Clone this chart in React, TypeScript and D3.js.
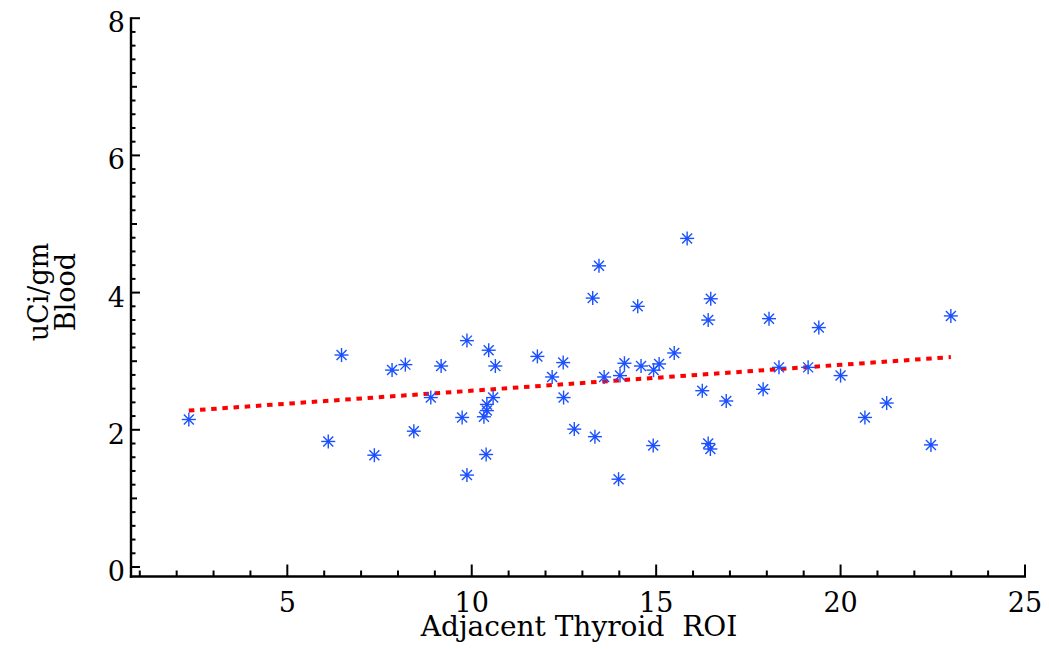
import React from "react";
import * as d3 from "d3";

// Adjacent Thyroid ROI (x) vs Blood uCi/gm (y)
const roiValues: number[] = [
  2.33, 6.11, 6.47, 7.36, 7.84, 8.2, 8.43, 8.89, 9.17, 9.74,
  9.87, 9.87, 10.33, 10.41, 10.41, 10.58, 10.39, 10.46, 10.64, 11.78,
  12.18, 12.48, 12.49, 12.78, 13.34, 13.28, 13.45, 13.59, 13.98, 14.02,
  14.14, 14.5, 14.59, 14.93, 15.08, 15.49, 14.92, 15.84, 16.25, 16.41,
  16.48, 16.41, 16.47, 16.9, 17.9, 18.06, 18.33, 19.12, 19.41, 20.0,
  20.66, 21.25, 22.45, 22.99,
];
const bloodValues: number[] = [
  2.15, 1.83, 3.09, 1.63, 2.87, 2.95, 1.98, 2.47, 2.93, 2.18,
  3.3, 1.34, 2.19, 2.28, 2.37, 2.47, 1.64, 3.16, 2.93, 3.07,
  2.77, 2.98, 2.47, 2.01, 1.9, 3.92, 4.39, 2.77, 1.28, 2.79,
  2.97, 3.8, 2.93, 2.87, 2.96, 3.12, 1.77, 4.79, 2.57, 3.6,
  3.91, 1.8, 1.72, 2.42, 2.59, 3.62, 2.91, 2.91, 3.49, 2.79,
  2.18, 2.39, 1.78, 3.66,
];
// fitted trend line endpoints
const fitX: number[] = [2.33, 22.99];
const fitY: number[] = [2.28, 3.06];

const xTickLabels: number[] = [5, 10, 15, 20, 25];
const yTickLabels: number[] = [0, 2, 4, 6, 8];

const W = 1049;
const H = 649;
const FONT = "'DejaVu Serif', serif";

export default function App() {
  const x = d3.scaleLinear().domain([0, 25]).range([102.9, 1025]);
  const y = d3.scaleLinear().domain([0, 8]).range([567, 18.2]);
  const axisX = 131;
  const axisY = 576.5;
  const blue = "#1a50ff";

  const xMinor = d3.range(1, 26, 1);
  const yMinor = d3.range(0, 8.001, 0.2).map((v) => Math.round(v * 10) / 10);

  const line = d3
    .line<number>()
    .x((_, i) => x(fitX[i]))
    .y((_, i) => y(fitY[i]));

  const star = (cx: number, cy: number, k: number) => {
    const a = 7;
    const b = 5;
    return (
      <g key={k} stroke={blue} strokeWidth={1.4}>
        <line x1={cx - a} y1={cy} x2={cx + a} y2={cy} />
        <line x1={cx} y1={cy - a} x2={cx} y2={cy + a} />
        <line x1={cx - b} y1={cy - b} x2={cx + b} y2={cy + b} />
        <line x1={cx - b} y1={cy + b} x2={cx + b} y2={cy - b} />
        <circle cx={cx} cy={cy} r={1.8} fill={blue} stroke="none" />
      </g>
    );
  };

  return (
    <svg
      width={W}
      height={H}
      style={{ position: "absolute", left: 0, top: 0, background: "#fff" }}
    >
      <rect x={0} y={0} width={W} height={H} fill="#fff" />
      {/* trend line */}
      <path
        d={line(fitX) || ""}
        fill="none"
        stroke="#ff0000"
        strokeWidth={4}
        strokeDasharray="5.5 5.7"
      />
      {/* points */}
      {roiValues.map((v, i) => star(x(v), y(bloodValues[i]), i))}

      {/* axes */}
      <g stroke="#000" strokeWidth={2.4} fill="none">
        <line x1={axisX} y1={axisY + 1.2} x2={axisX} y2={y(8) - 1} />
        <line x1={axisX - 1.2} y1={axisY} x2={x(25) + 1} y2={axisY} />
      </g>
      <g stroke="#000" strokeWidth={2}>
        {yMinor.map((v) => {
          const major = Math.abs(v % 2) < 1e-6;
          const mid = !major && Math.abs(v % 1) < 1e-6;
          const len = major ? 9 : mid ? 6 : 4.5;
          return (
            <line key={"yt" + v} x1={axisX} x2={axisX + len} y1={y(v)} y2={y(v)} />
          );
        })}
        {xMinor.map((v) => {
          const major = v % 5 === 0;
          const len = major ? 12 : 6;
          return (
            <line key={"xt" + v} x1={x(v)} x2={x(v)} y1={axisY} y2={axisY - len} />
          );
        })}
      </g>
      <g fontFamily={FONT} fontSize={27} fill="#000">
        {xTickLabels.map((v) => (
          <text key={"xl" + v} x={x(v)} y={612} textAnchor="middle">
            {v}
          </text>
        ))}
        {yTickLabels.map((v) => (
          <text key={"yl" + v} x={125} y={y(v) + 14} textAnchor="end">
            {v}
          </text>
        ))}
      </g>
      <text
        x={579}
        y={636}
        textAnchor="middle"
        fontFamily={FONT}
        fontSize={28}
        fill="#000"
      >
        {"Adjacent Thyroid\u00a0 ROI"}
      </text>
      <g transform="translate(48,292) rotate(-90)">
        <text x={0} y={0} textAnchor="middle" fontFamily={FONT} fontSize={27} fill="#000">
          uCi/gm
        </text>
        <text x={0} y={27} textAnchor="middle" fontFamily={FONT} fontSize={27} fill="#000">
          Blood
        </text>
      </g>
    </svg>
  );
}
